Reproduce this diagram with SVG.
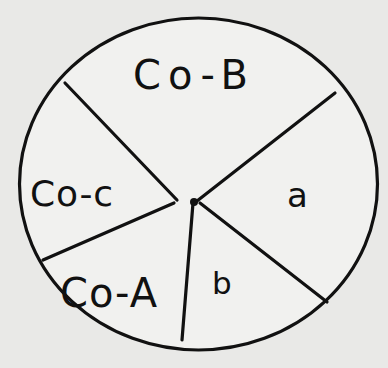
<svg xmlns="http://www.w3.org/2000/svg" width="388" height="368" viewBox="0 0 388 368">
<style>
.ln{stroke:#111;stroke-width:3.2;stroke-linecap:round;fill:none}
.lb{font-family:"DejaVu Sans","Liberation Sans",sans-serif;fill:#111}
</style>
<rect width="388" height="368" fill="#e9e9e7"/>
<g id="circle">
<ellipse cx="198.5" cy="184" rx="179" ry="166" fill="#f1f1ef" stroke="#111" stroke-width="3.2"/>
</g>
<g id="connectors">
<line class="ln" x1="65" y1="83" x2="177" y2="200"/>
<line class="ln" x1="335" y1="93" x2="197" y2="201"/>
<line class="ln" x1="43" y1="260" x2="174" y2="203"/>
<line class="ln" x1="193" y1="203" x2="182" y2="340"/>
<line class="ln" x1="200" y1="203" x2="327" y2="302"/>
<circle cx="194" cy="202" r="4" fill="#111"/>
</g>
<g id="sector-CoB"><text class="lb" x="133" y="89" font-size="40" textLength="115" lengthAdjust="spacing">Co-B</text></g>
<g id="sector-a"><text class="lb" x="287" y="207" font-size="34">a</text></g>
<g id="sector-b"><text class="lb" x="212" y="294" font-size="31">b</text></g>
<g id="sector-CoA"><text class="lb" x="60" y="307" font-size="40" textLength="97" lengthAdjust="spacing">Co-A</text></g>
<g id="sector-Coc"><text class="lb" x="30" y="206" font-size="36" textLength="83" lengthAdjust="spacing">Co-c</text></g>
</svg>
